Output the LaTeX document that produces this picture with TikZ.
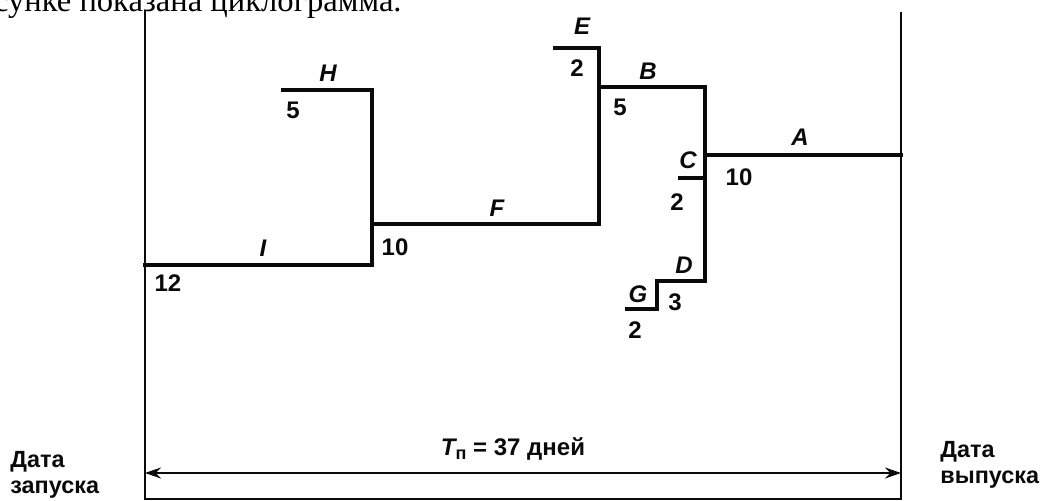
\documentclass[tikz,border=0pt]{standalone}
\usepackage{fontspec}
\setsansfont{Liberation Sans}
\newfontfamily\textru{Liberation Serif}
\usepackage{tikz}
\usetikzlibrary{
  arrows.meta,
  positioning
}
\definecolor{inkblack}{RGB}{10,10,10}
\tikzset{
  job/.style={line width=2.2pt,draw=inkblack,line cap=rect},
  frameline/.style={line width=1.1pt,draw=inkblack},
  spanflow/.style={{Stealth[length=8pt,width=5.5pt]}-{Stealth[length=8pt,width=5.5pt]},
    line width=0.9pt,draw=inkblack},
  joblab/.style={font=\fontsize{12}{14}\sffamily\bfseries\itshape,text=inkblack,inner sep=0pt},
  durlab/.style={font=\fontsize{12}{14}\sffamily\bfseries,text=inkblack,inner sep=0pt},
  datelab/.style={font=\fontsize{11.7}{13}\sffamily\bfseries,text=inkblack,
    align=left,inner sep=0pt}
}

\begin{document}
\begin{tikzpicture}[x=0.5pt,y=-0.5pt]
  \useasboundingbox (0,0) rectangle (1053,501);
  % clipped line of text above the chart
  \begin{scope}
    \clip (0,0) rectangle (1053,501);
    \node[anchor=base east,inner sep=0pt,font=\fontsize{16.3}{18}\textru] (caption)
      at (402,12) {На рисунке показана циклограмма.};
  \end{scope}
  % frame
  \coordinate (lt) at (145,10);
  \coordinate (lb) at (145,499);
  \coordinate (rt) at (901,12);
  \coordinate (rb) at (901,499);
  \draw[frameline] (lt)--(lb)--(rb)--(rt);
  % junction points
  \coordinate (i0) at (145,265);
  \coordinate (i1) at (372,265);
  \coordinate (h0) at (283,90);
  \coordinate (h1) at (372,90);
  \coordinate (f0) at (372,224);
  \coordinate (f1) at (599,224);
  \coordinate (e0) at (555,48);
  \coordinate (e1) at (599,48);
  \coordinate (b0) at (599,87);
  \coordinate (b1) at (705,87);
  \coordinate (a0) at (705,155);
  \coordinate (a1) at (901,155);
  \coordinate (c0) at (680,178);
  \coordinate (c1) at (705,178);
  \coordinate (d0) at (657,281);
  \coordinate (d1) at (705,281);
  \coordinate (g0) at (627,309);
  \coordinate (g1) at (657,309);
  % jobs
  \draw[job] (i0)--(i1)--(h1)--(h0);
  \draw[job] (f0)--(f1)--(e1)--(e0);
  \draw[job] (b0)--(b1)--(d1)--(d0)--(g1)--(g0);
  \draw[job] (a0)--(a1);
  \draw[job] (c0)--(c1);
  % job names
  \node[joblab] (labI) at (263,248) {I};
  \node[joblab] (labH) at (328,73) {H};
  \node[joblab] (labF) at (497,208) {F};
  \node[joblab] (labE) at (582,26) {E};
  \node[joblab] (labB) at (648,71) {B};
  \node[joblab] (labA) at (800,137) {A};
  \node[joblab] (labC) at (688,160) {C};
  \node[joblab] (labD) at (684,265) {D};
  \node[joblab] (labG) at (638,294) {G};
  % durations
  \node[durlab] (durI) at (168,283) {12};
  \node[durlab] (durH) at (293,110) {5};
  \node[durlab] (durF) at (395,247) {10};
  \node[durlab] (durE) at (577,68) {2};
  \node[durlab] (durB) at (620,107) {5};
  \node[durlab] (durA) at (739,177) {10};
  \node[durlab] (durC) at (677,202) {2};
  \node[durlab] (durD) at (675,302) {3};
  \node[durlab] (durG) at (635,330) {2};
  % total span
  \coordinate (sl) at (145,473);
  \coordinate (sr) at (901,473);
  \draw[spanflow] (sl)--(sr);
  \node[durlab] (total) at (513,449)
    {{\itshape T}\raisebox{-0.35ex}{\fontsize{9}{10}\selectfont п} = 37 дней};
  \node[datelab,anchor=west] (start) at (10,475) {Дата\\запуска};
  \node[datelab,anchor=west] (release) at (940,465) {Дата\\выпуска};
\end{tikzpicture}
\end{document}
